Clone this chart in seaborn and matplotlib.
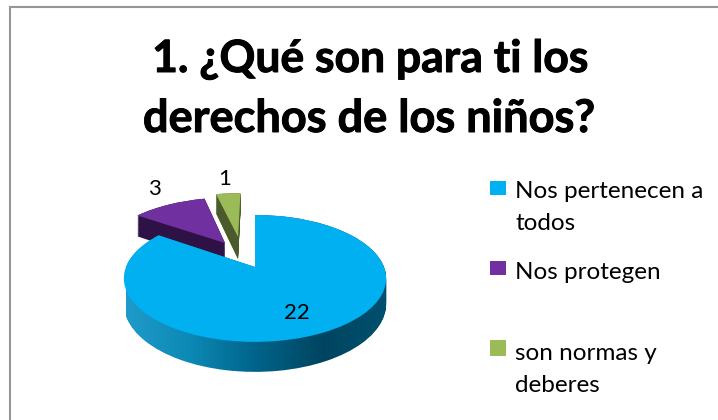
import matplotlib
matplotlib.use("Agg")
import matplotlib.pyplot as plt
import matplotlib.patheffects as pe
import numpy as np
import seaborn as sns
from matplotlib.colors import LinearSegmentedColormap
from matplotlib.patches import Rectangle
from matplotlib.path import Path
from matplotlib.transforms import Transform

sns.set_theme(style="white")
plt.rcParams['font.family'] = ['Lato', 'DejaVu Sans']

categories = ["Nos pertenecen a\ntodos", "Nos protegen", "son normas y\ndeberes"]
values = [22, 3, 1]
colors = ["#00B0F0", "#7030A0", "#9BBB59"]
walls = ["#005070", "#2E1246", "#4A5A2A"]
wall_gradient = ["#1F9BCB", "#0C88B4", "#006389", "#004560", "#00506F"]
title_lines = ["1. ¿Qué son para ti los", "derechos de los niños?"]

# slice offsets on the pie's ground plane (exploded wedges)
centers = [(0, 0), (-0.25, 0.42), (-0.144, 0.536)]
CX, CY, HX, VY, K, DEPTH = 255, 267, 129, 61.4, 0.18, 24.6


class Persp(Transform):
    """Tilted-disc projection of the pie plane, with a downward extrusion d."""
    input_dims = output_dims = 2
    is_separable = False

    def __init__(self, d=0.0):
        super().__init__()
        self.d = d

    def transform_non_affine(self, pts):
        pts = np.asarray(pts, dtype=float)
        w = 1 + K * pts[:, 1]
        return np.column_stack([CX + HX * pts[:, 0] / w,
                                CY - VY * pts[:, 1] / w + self.d / w])


fig = plt.figure(figsize=(7.18, 4.20), dpi=100)
fig.patch.set_facecolor("white")
ax = fig.add_axes([0, 0, 1, 1])


def draw_slice(i, color, d, z):
    wedges, _ = ax.pie(values, colors=[color] * len(values), startangle=90, counterclock=False,
                       center=centers[i], wedgeprops=dict(linewidth=0, edgecolor="none"))
    for j, w in enumerate(wedges):
        if j != i:
            w.remove()
    wedges[i].set_transform(Persp(d) + ax.transData)
    wedges[i].set_zorder(z)
    return wedges[i]


steps = np.linspace(DEPTH, 0, 26)
for i, z in ((2, 1), (1, 2)):
    for d in steps:
        draw_slice(i, walls[i], d, z)
    draw_slice(i, colors[i], 0, z + 0.5)

# blue slice: shaded wall, then top face
top = draw_slice(0, colors[0], 0, 4)
outline = Path.make_compound_path(*[Persp(d).transform_path(top.get_path()) for d in steps])
cmap = LinearSegmentedColormap.from_list("wall", wall_gradient)
im = ax.imshow(np.linspace(0, 1, 256)[None, :], cmap=cmap, aspect="auto",
               extent=(126, 388, 380, 200), zorder=3)
im.set_clip_path(outline, ax.transData)

ax.plot([10, 10, 718], [420, 7, 7], color="#969696", lw=1.5, solid_joinstyle="miter", zorder=0)

ax.set_aspect("auto")
ax.set_xlim(0, 718)
ax.set_ylim(420, 0)
ax.set_axis_off()

bold = [pe.withStroke(linewidth=0.7, foreground="black")]
ax.text(370.5, 72, title_lines[0], ha="center", va="baseline", fontsize=32, fontweight="bold",
        color="black", path_effects=bold)
ax.text(369, 132, title_lines[1], ha="center", va="baseline", fontsize=32.5, fontweight="bold",
        color="black", path_effects=bold)

for v, (x, y) in zip(values, [(297, 319), (154, 195), (225, 185)]):
    ax.text(x, y, str(v), ha="center", va="baseline", fontsize=16, color="black", zorder=6)

swatches = [(181, 14), (261, 14), (340, 16)]
baselines = [(198, 230), (279,), (360, 392)]
for c, col, (sy, sh), bl in zip(categories, colors, swatches, baselines):
    ax.add_patch(Rectangle((490, sy), 16, sh, color=col, lw=0))
    for line, y in zip(c.split("\n"), bl):
        ax.text(515, y, line, ha="left", va="baseline", fontsize=17.5, color="black")

fig.savefig("out.png", dpi=100)
